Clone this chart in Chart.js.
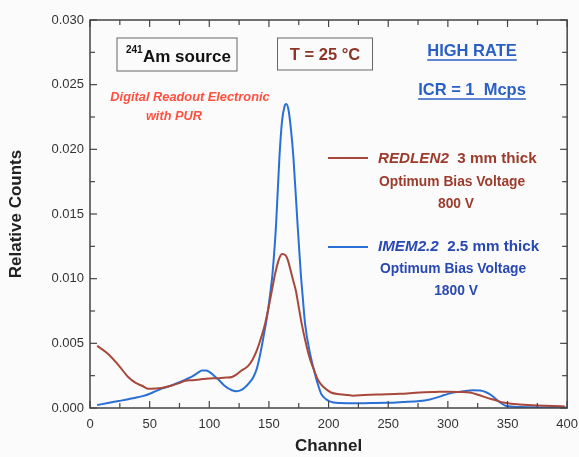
<!DOCTYPE html>
<html>
<head>
<meta charset="utf-8">
<script src="https://cdn.jsdelivr.net/npm/chart.js@4.4.1/dist/chart.umd.min.js"></script>
<style>
html,body{margin:0;padding:0;background:#fbfbfb;overflow:hidden;}
#wrap{width:579px;height:457px;position:relative;overflow:hidden;}
</style>
</head>
<body>
<div id="wrap"><canvas id="c" width="587" height="457" style="width:587px;height:457px;"></canvas></div>
<script>
// ---- data ----
const xTicks = [0, 50, 100, 150, 200, 250, 300, 350, 400];
const yTicks = [0, 0.005, 0.010, 0.015, 0.020, 0.025, 0.030];

const redChannels = [6,15,24,32,38,44,49,55,60,67,74,80,85,92,97,103,108,114,119,123,127,132,136,140,144,147,150,152.5,155,158,161,164,166,168,170.5,172.5,175,177.5,180.5,184,187.5,191.5,196,202,209.5,216,220.5,230,240,248.5,260,276.5,290,299,310,318.5,326,332.5,340,346.5,353,360,375,388,398];
const redCounts = [0.0048,0.0042,0.0033,0.0024,0.00196,0.0017,0.00148,0.0015,0.00155,0.0017,0.0019,0.0021,0.00215,0.0022,0.00227,0.0023,0.0023,0.00235,0.0024,0.0026,0.0029,0.0032,0.0037,0.0045,0.0056,0.0066,0.0079,0.0091,0.0103,0.0114,0.0119,0.0118,0.0114,0.0107,0.0098,0.0091,0.0078,0.0065,0.0052,0.0039,0.003,0.0021,0.0016,0.0012,0.00106,0.001,0.00095,0.001,0.00104,0.00106,0.0011,0.0012,0.00124,0.00126,0.00124,0.0012,0.001,0.0008,0.0006,0.00042,0.00033,0.00028,0.0002,0.00015,0.00012];

const blueChannels = [6,15,24,32,38,44,49,55,60,67,74,80,85,90,94,97,100,104,108,113,119,123,127,130,134,137,140,143,146,148.5,151,153,156,158.8,161,163,164.6,166.5,168.5,170.5,174,176.7,178.5,180.3,184.5,188.7,191.5,194,198,204,210,220.5,235,248.5,262,276.5,284,290.5,297,304.5,313,321,327,332.5,337,340.5,345,349,360,371,385,400];
const blueCounts = [0.00023,0.00038,0.00054,0.00068,0.0008,0.00092,0.00106,0.0013,0.0015,0.0017,0.00196,0.0022,0.0024,0.0027,0.0029,0.0029,0.0028,0.0025,0.00217,0.0017,0.00137,0.0013,0.0014,0.0016,0.002,0.0024,0.0031,0.0043,0.0058,0.0071,0.0088,0.0104,0.0142,0.0194,0.0222,0.0233,0.0235,0.023,0.0215,0.0194,0.0142,0.0104,0.0084,0.0065,0.0042,0.0026,0.0017,0.00106,0.00067,0.00042,0.00038,0.00036,0.00038,0.0004,0.00046,0.00054,0.00064,0.0008,0.001,0.00119,0.0013,0.00137,0.00135,0.0012,0.00095,0.00067,0.00035,0.00015,0.00008,0.00005,0.00004,0.00003];

const redColor = '#a8483a';
const blueColor = '#2a6fd6';
const redText = '#9c3b2c';
const blueText = '#2848b4';

const toPts = (xs, ys) => xs.map((v, i) => ({x: v, y: ys[i]}));

const FONT = '"Liberation Sans", Arial, sans-serif';

function line(ctx, x1, y1, x2, y2) { ctx.beginPath(); ctx.moveTo(x1, y1); ctx.lineTo(x2, y2); ctx.stroke(); }

const overlay = {
  id: 'overlay',
  afterDraw(chart) {
    const {ctx, chartArea: a, scales: {x, y}} = chart;
    ctx.save();
    ctx.strokeStyle = '#444';
    ctx.lineWidth = 1.5;
    ctx.strokeRect(a.left, a.top, a.right - a.left, a.bottom - a.top);
    ctx.lineWidth = 1.2;
    for (let v = 0; v <= 400; v += 25) {
      const px = x.getPixelForValue(v);
      const L = v % 50 === 0 ? 7 : 5;
      line(ctx, px, a.bottom, px, a.bottom - L);
      line(ctx, px, a.top, px, a.top + L);
    }
    for (let i = 0; i <= 12; i++) {
      const v = i * 0.0025;
      const py = y.getPixelForValue(v);
      const L = i % 2 === 0 ? 7 : 5;
      line(ctx, a.left, py, a.left + L, py);
      line(ctx, a.right, py, a.right - L, py);
    }

    // text boxes
    ctx.lineWidth = 1;
    ctx.strokeStyle = '#666';
    ctx.strokeRect(117, 38, 120, 33);
    ctx.strokeRect(277.5, 38, 95, 32);

    ctx.textBaseline = 'middle';
    ctx.fillStyle = '#111';
    ctx.font = 'bold 10px ' + FONT;
    ctx.textAlign = 'left';
    ctx.fillText('241', 126, 50);
    ctx.font = 'bold 17px ' + FONT;
    ctx.fillText('Am source', 143, 57);

    ctx.fillStyle = '#8c3426';
    ctx.textAlign = 'center';
    ctx.font = 'bold 16.5px ' + FONT;
    ctx.fillText('T = 25 \u00B0C', 325, 55);

    // HIGH RATE
    ctx.fillStyle = '#2a5fc4';
    ctx.strokeStyle = '#2a5fc4';
    ctx.lineWidth = 1.4;
    const under = (t, cx, cy, off) => {
      ctx.fillText(t, cx, cy);
      const w = ctx.measureText(t).width;
      line(ctx, cx - w / 2, cy + off, cx + w / 2, cy + off);
    };
    ctx.font = 'bold 16.5px ' + FONT;
    under('HIGH RATE', 472, 51, 9);
    under('ICR = 1  Mcps', 472, 90, 9);

    // digital readout
    ctx.fillStyle = '#ff5040';
    ctx.font = 'italic bold 12.8px ' + FONT;
    ctx.fillText('Digital Readout Electronic', 190, 97);
    ctx.fillText('with PUR', 174, 116);

    // legend
    ctx.lineWidth = 2;
    ctx.strokeStyle = redColor;
    line(ctx, 328, 158, 368, 158);
    ctx.strokeStyle = blueColor;
    line(ctx, 328, 247, 368, 247);

    ctx.textAlign = 'left';
    ctx.fillStyle = redText;
    ctx.font = 'italic bold 15.2px ' + FONT;
    ctx.fillText('REDLEN2', 378, 159);
    let w = ctx.measureText('REDLEN2').width;
    ctx.font = 'bold 15.2px ' + FONT;
    ctx.fillText('  3 mm thick', 378 + w, 159);
    ctx.font = 'bold 13.8px ' + FONT;
    ctx.fillText('Optimum Bias Voltage', 379, 182);
    ctx.textAlign = 'center';
    ctx.fillText('800 V', 456, 204);

    ctx.textAlign = 'left';
    ctx.fillStyle = blueText;
    ctx.font = 'italic bold 15.2px ' + FONT;
    ctx.fillText('IMEM2.2', 378, 247);
    w = ctx.measureText('IMEM2.2').width;
    ctx.font = 'bold 15.2px ' + FONT;
    ctx.fillText('  2.5 mm thick', 378 + w, 247);
    ctx.font = 'bold 13.8px ' + FONT;
    ctx.fillText('Optimum Bias Voltage', 380, 269);
    ctx.textAlign = 'center';
    ctx.fillText('1800 V', 456, 291);
    ctx.restore();
  }
};

new Chart(document.getElementById('c'), {
  type: 'line',
  data: {
    datasets: [
      {label: 'REDLEN2', data: toPts(redChannels, redCounts), borderColor: redColor, borderWidth: 2, pointRadius: 0, cubicInterpolationMode: 'monotone', fill: false},
      {label: 'IMEM2.2', data: toPts(blueChannels, blueCounts), borderColor: blueColor, borderWidth: 2, pointRadius: 0, cubicInterpolationMode: 'monotone', fill: false}
    ]
  },
  options: {
    responsive: false,
    animation: false,
    layout: {padding: {top: 20, right: 1, left: 2, bottom: 0}},
    plugins: {legend: {display: false}, tooltip: {enabled: false}},
    scales: {
      x: {
        type: 'linear', min: 0, max: 400,
        afterBuildTicks: s => { s.ticks = xTicks.map(v => ({value: v})); },
        grid: {display: false, drawTicks: false},
        border: {display: false},
        ticks: {color: '#333', font: {family: FONT, size: 13}, padding: 9, maxRotation: 0},
        title: {display: true, text: 'Channel', color: '#222', font: {family: FONT, size: 17, weight: 'bold'}, padding: {top: 6, bottom: 0}},
        afterFit: s => { s.height = 49; }
      },
      y: {
        type: 'linear', min: 0, max: 0.03,
        afterBuildTicks: s => { s.ticks = yTicks.map(v => ({value: v})); },
        grid: {display: false, drawTicks: false},
        border: {display: false},
        ticks: {color: '#333', font: {family: FONT, size: 13}, padding: 6, callback: v => v.toFixed(3)},
        title: {display: true, text: 'Relative Counts', color: '#222', font: {family: FONT, size: 17, weight: 'bold'}, padding: {top: 4, bottom: 4}},
        afterFit: s => { s.width = 88; }
      }
    }
  },
  plugins: [overlay]
});
</script>
</body>
</html>
